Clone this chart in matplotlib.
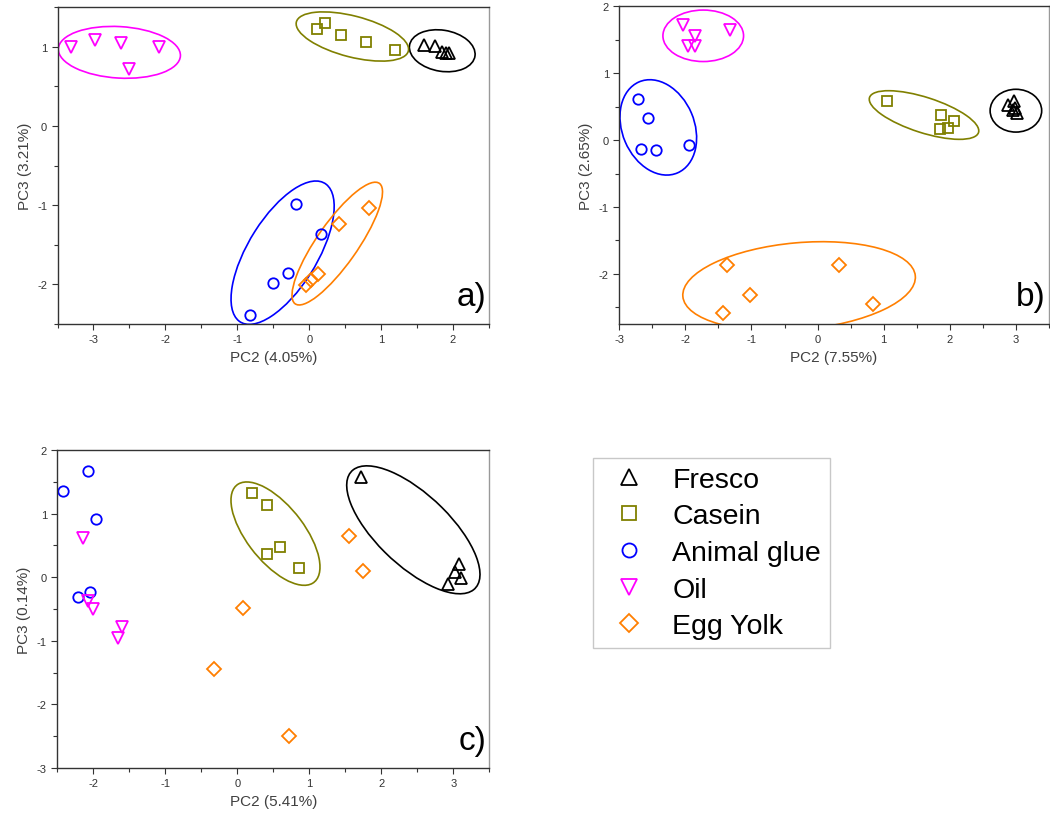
import matplotlib.pyplot as plt
from matplotlib.patches import Ellipse
from matplotlib.lines import Line2D
from matplotlib.ticker import MultipleLocator

plt.rcParams['font.family'] = ['Liberation Sans', 'DejaVu Sans']
plt.rcParams['axes.unicode_minus'] = False

groups = ['Fresco', 'Casein', 'Animal glue', 'Oil', 'Egg Yolk']
colors = ['black', '#808000', '#0000ff', '#ff00ff', '#ff7f00']
markers = ['^', 's', 'o', 'v', 'D']
msizes = [8.5, 7.5, 7.5, 8.5, 7]

# panel a  (PC2 4.05%, PC3 3.21%)
a_fresco_x = [1.60, 1.75, 1.85, 1.90, 1.95]
a_fresco_y = [1.02, 1.01, 0.94, 0.92, 0.92]
a_casein_x = [0.11, 0.22, 0.44, 0.79, 1.19]
a_casein_y = [1.23, 1.30, 1.15, 1.06, 0.96]
a_glue_x = [-0.19, 0.16, -0.29, -0.50, -0.82]
a_glue_y = [-0.99, -1.36, -1.86, -1.98, -2.39]
a_oil_x = [-3.31, -2.98, -2.62, -2.09, -2.51]
a_oil_y = [1.00, 1.08, 1.05, 1.00, 0.72]
a_egg_x = [0.83, 0.42, 0.12, 0.03, -0.04]
a_egg_y = [-1.03, -1.24, -1.87, -1.95, -2.01]

# panel b  (PC2 7.55%, PC3 2.65%)
b_fresco_x = [2.88, 2.97, 2.99, 3.02, 2.95]
b_fresco_y = [0.52, 0.58, 0.48, 0.40, 0.45]
b_casein_x = [1.05, 1.86, 2.06, 1.98, 1.85]
b_casein_y = [0.59, 0.38, 0.28, 0.18, 0.16]
b_glue_x = [-2.71, -2.56, -2.67, -2.44, -1.95]
b_glue_y = [0.61, 0.33, -0.14, -0.15, -0.08]
b_oil_x = [-2.04, -1.85, -1.96, -1.86, -1.33]
b_oil_y = [1.72, 1.55, 1.40, 1.40, 1.64]
b_egg_x = [-1.37, -1.03, -1.43, 0.32, 0.84]
b_egg_y = [-1.87, -2.32, -2.59, -1.87, -2.45]

# panel c  (PC2 5.41%, PC3 0.14%)
c_fresco_x = [1.72, 3.08, 3.03, 3.11, 2.92]
c_fresco_y = [1.57, 0.21, 0.08, -0.02, -0.11]
c_casein_x = [0.21, 0.41, 0.59, 0.41, 0.86]
c_casein_y = [1.33, 1.14, 0.48, 0.37, 0.14]
c_glue_x = [-2.42, -2.08, -1.96, -2.21, -2.04]
c_glue_y = [1.36, 1.67, 0.92, -0.31, -0.23]
c_oil_x = [-2.14, -2.08, -2.00, -1.60, -1.66]
c_oil_y = [0.62, -0.37, -0.50, -0.79, -0.95]
c_egg_x = [1.55, 1.75, 0.08, -0.32, 0.72]
c_egg_y = [0.64, 0.10, -0.48, -1.44, -2.50]

# group ellipses: centre x, centre y, width, height, angle (data units)
a_ellipses = {
    'Fresco': (1.85, 0.95, 0.92, 0.52, -8),
    'Casein': (0.60, 1.13, 1.60, 0.52, -13),
    'Animal glue': (-0.37, -1.60, 2.11, 0.94, 55),
    'Oil': (-2.64, 0.93, 1.70, 0.65, -3),
    'Egg Yolk': (0.39, -1.485, 1.92, 0.55, 52),
}
b_ellipses = {
    'Fresco': (3.00, 0.44, 0.78, 0.64, 0),
    'Casein': (1.61, 0.375, 1.73, 0.53, -17.6),
    'Animal glue': (-2.41, 0.19, 1.48, 1.09, -66.7),
    'Oil': (-1.73, 1.56, 1.22, 0.77, 0),
    'Egg Yolk': (-0.28, -2.185, 3.53, 1.30, 5),
}
c_ellipses = {
    'Fresco': (2.445, 0.745, 2.52, 1.06, -48.4),
    'Casein': (0.53, 0.685, 1.87, 0.82, -56.6),
}

panels = [
    dict(pos=[0.0548, 0.6037, 0.4109, 0.3863], xlim=(-3.5, 2.5), ylim=(-2.5, 1.5),
         xlabel='PC2 (4.05%)', ylabel='PC3 (3.21%)', tag='a)',
         xs=[a_fresco_x, a_casein_x, a_glue_x, a_oil_x, a_egg_x],
         ys=[a_fresco_y, a_casein_y, a_glue_y, a_oil_y, a_egg_y], ell=a_ellipses),
    dict(pos=[0.5898, 0.6037, 0.4092, 0.3873], xlim=(-3, 3.5), ylim=(-2.75, 2),
         xlabel='PC2 (7.55%)', ylabel='PC3 (2.65%)', tag='b)',
         xs=[b_fresco_x, b_casein_x, b_glue_x, b_oil_x, b_egg_x],
         ys=[b_fresco_y, b_casein_y, b_glue_y, b_oil_y, b_egg_y], ell=b_ellipses),
    dict(pos=[0.0546, 0.0622, 0.4114, 0.3878], xlim=(-2.5, 3.5), ylim=(-3, 2),
         xlabel='PC2 (5.41%)', ylabel='PC3 (0.14%)', tag='c)',
         xs=[c_fresco_x, c_casein_x, c_glue_x, c_oil_x, c_egg_x],
         ys=[c_fresco_y, c_casein_y, c_glue_y, c_oil_y, c_egg_y], ell=c_ellipses),
]

fig = plt.figure(figsize=(10.5, 8.2), dpi=100)

for p in panels:
    ax = fig.add_axes(p['pos'])
    for i, g in enumerate(groups):
        ax.plot(p['xs'][i], p['ys'][i], linestyle='none', marker=markers[i],
                markersize=msizes[i], markerfacecolor='none',
                markeredgecolor=colors[i], markeredgewidth=1.3)
        if g in p['ell']:
            cx, cy, w, h, ang = p['ell'][g]
            ax.add_patch(Ellipse((cx, cy), w, h, angle=ang, fill=False,
                                 edgecolor=colors[i], linewidth=1.2))
    ax.set_xlim(p['xlim'])
    ax.set_ylim(p['ylim'])
    ax.xaxis.set_major_locator(MultipleLocator(1))
    ax.xaxis.set_minor_locator(MultipleLocator(0.5))
    ax.yaxis.set_major_locator(MultipleLocator(1))
    ax.yaxis.set_minor_locator(MultipleLocator(0.5))
    ax.tick_params(which='both', direction='out', colors='#333333', labelsize=8,
                   width=0.8, top=False, right=False)
    ax.tick_params(which='major', length=4)
    ax.tick_params(which='minor', length=3)
    for s in ax.spines.values():
        s.set_color('#333333')
        s.set_linewidth(1.0)
    ax.spines['right'].set_color('#999999')
    ax.set_xlabel(p['xlabel'], fontsize=11, color='#404040')
    ax.set_ylabel(p['ylabel'], fontsize=11, color='#404040')
    ax.text(0.993, 0.06, p['tag'], transform=ax.transAxes, ha='right',
            va='baseline', fontsize=24, color='black')

handles = [Line2D([], [], linestyle='none', marker=markers[i], markersize=msizes[i] * 1.35,
                  markerfacecolor='none', markeredgecolor=colors[i], markeredgewidth=1.3,
                  label=groups[i]) for i in range(len(groups))]
leg = fig.legend(handles=handles, loc='upper left', bbox_to_anchor=(0.5645, 0.4398),
                 fontsize=20.5, frameon=True, fancybox=False, edgecolor='#bbbbbb',
                 borderpad=0.3, handlelength=1.95, handletextpad=0.55, labelspacing=0.37,
                 borderaxespad=0)
leg.get_frame().set_linewidth(1.0)

fig.savefig('out.png', dpi=100)
